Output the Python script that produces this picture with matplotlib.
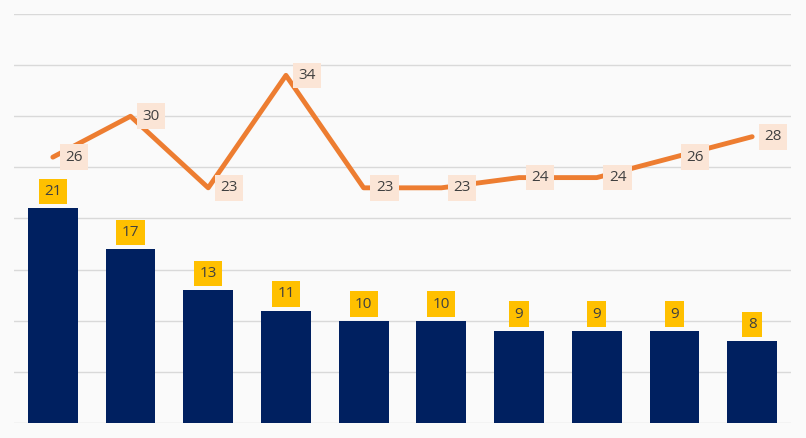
import matplotlib.pyplot as plt
import numpy as np

plt.rcParams['font.family'] = ['Open Sans', 'DejaVu Sans']

categories = ['A', 'B', 'C', 'D', 'E', 'F', 'G', 'H', 'I', 'J']
bar_values = [21, 17, 13, 11, 10, 10, 9, 9, 9, 8]
line_values = [26, 30, 23, 34, 23, 23, 24, 24, 26, 28]

fig = plt.figure(figsize=(8.06, 4.38), dpi=100, facecolor='#FAFAFA')
ax = fig.add_axes([14 / 806, 15 / 438, 777 / 806, 409 / 438])
ax.set_facecolor('#FAFAFA')

x = np.arange(len(categories))
ax.bar(x, bar_values, width=0.64, color='#002060', zorder=2)
ax.plot(x, line_values, color='#ED7D31', linewidth=3.5, solid_capstyle='round', zorder=3)

# Data labels for bars
for xi, v in zip(x, bar_values):
    ax.annotate(str(v), (xi, v), xytext=(0, 12), textcoords='offset points',
                ha='center', va='center', fontsize=11, color='#404040',
                bbox=dict(boxstyle='square,pad=0.35', fc='#FFC000', ec='none'), zorder=4)

# Data labels for line
for xi, v in zip(x, line_values):
    ax.annotate(str(v), (xi, v), xytext=(15, 0), textcoords='offset points',
                ha='center', va='center', fontsize=11, color='#404040',
                bbox=dict(boxstyle='square,pad=0.35', fc='#FBE5D6', ec='none'), zorder=4)

ax.set_xlim(-0.5, len(categories) - 0.5)
ax.set_ylim(0, 40)
ax.set_yticks(range(0, 41, 5))
ax.yaxis.grid(True, color='#D9D9D9', linewidth=1)
ax.set_axisbelow(True)
ax.tick_params(left=False, bottom=False, labelleft=False, labelbottom=False)
for s in ax.spines.values():
    s.set_visible(False)

fig.savefig('out.png', dpi=100, facecolor=fig.get_facecolor())
